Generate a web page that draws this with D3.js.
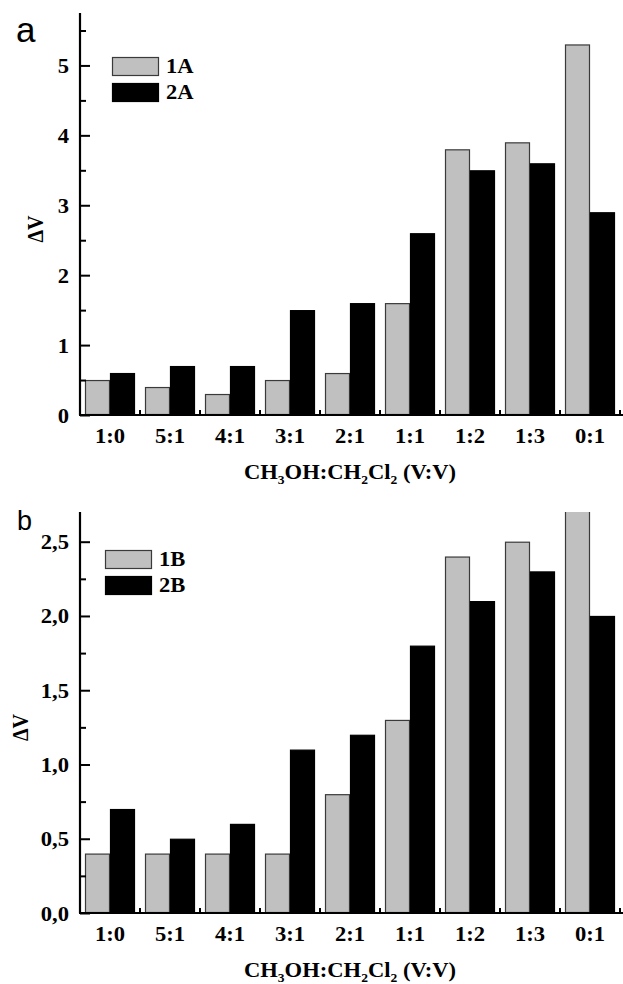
<!DOCTYPE html>
<html>
<head>
<meta charset="utf-8">
<script src="https://cdn.jsdelivr.net/npm/d3@7"></script>
<style>
  html, body { margin: 0; padding: 0; background: #fff; }
  svg { display: block; }
  .serif { font-family: "Liberation Serif", "Times New Roman", serif; font-weight: bold; }
</style>
</head>
<body>
<svg id="chart" width="623" height="984"></svg>
<script>
// Solvent ratio categories (CH3OH : CH2Cl2, v/v)
const categories = ["1:0", "5:1", "4:1", "3:1", "2:1", "1:1", "1:2", "1:3", "0:1"];

// Panel a: ΔV for compounds 1A and 2A
const seriesNamesA = ["1A", "2A"];
const values1A = [0.5, 0.4, 0.3, 0.5, 0.6, 1.6, 3.8, 3.9, 5.3];
const values2A = [0.6, 0.7, 0.7, 1.5, 1.6, 2.6, 3.5, 3.6, 2.9];
const majorTicksA = [0, 1, 2, 3, 4, 5];
const minorTicksA = [0.5, 1.5, 2.5, 3.5, 4.5, 5.5];

// Panel b: ΔV for compounds 1B and 2B
const seriesNamesB = ["1B", "2B"];
const values1B = [0.4, 0.4, 0.4, 0.4, 0.8, 1.3, 2.4, 2.5, 2.8];
const values2B = [0.7, 0.5, 0.6, 1.1, 1.2, 1.8, 2.1, 2.3, 2.0];
const majorTicksB = [0, 0.5, 1.0, 1.5, 2.0, 2.5];
const minorTicksB = [0.25, 0.75, 1.25, 1.75, 2.25];

const svg = d3.select("#chart");
const fills = ["#c0c0c0", "#000000"];
const strokes = ["#3a3a3a", "#000000"];
const SX = 1.13; // horizontal widening of the bold serif lettering

const commaFmt = d => d3.format(".1f")(d).replace(".", ",");

// widen text horizontally about its own anchor point
function widen(sel, sx) {
  sel.each(function() {
    const t = d3.select(this);
    const x = +t.attr("x") || 0, y = +t.attr("y") || 0;
    t.attr("x", 0).attr("y", 0)
      .attr("transform", `translate(${x},${y}) scale(${sx},1)`);
  });
}

const panels = [
  { id: "a", letter: "a", letterSize: 35, letterX: 16, letterY: 42,
    top: 13, bottom: 415, ymax: 5.75,
    names: seriesNamesA, series: [values1A, values2A],
    major: majorTicksA, minor: minorTicksA, fmt: d3.format("d"),
    legendX: 112, legendY: 57, ylabelX: 43 },
  { id: "b", letter: "b", letterSize: 27, letterX: 17, letterY: 530,
    top: 512, bottom: 913, ymax: 2.7,
    names: seriesNamesB, series: [values1B, values2B],
    major: majorTicksB, minor: minorTicksB, fmt: commaFmt,
    legendX: 105, legendY: 550, ylabelX: 28 }
];

const left = 80, right = 620;

const x0 = d3.scaleBand()
  .domain(categories)
  .range([left, right])
  .paddingInner(1 / 6)
  .paddingOuter(1 / 12);

panels.forEach(p => {
  const g = svg.append("g");
  const y = d3.scaleLinear().domain([0, p.ymax]).range([p.bottom, p.top]);
  const x1 = d3.scaleBand().domain(p.names).range([0, x0.bandwidth()]);

  // clip bars to the plotting area
  const clipId = "clip-" + p.id;
  svg.append("clipPath").attr("id", clipId)
    .append("rect")
    .attr("x", left).attr("y", p.top)
    .attr("width", right - left + 3).attr("height", p.bottom - p.top);

  const rows = categories.map((c, i) => ({
    cat: c,
    vals: p.names.map((n, k) => ({ name: n, k, v: p.series[k][i] }))
  }));

  const barsG = g.append("g").attr("clip-path", `url(#${clipId})`);
  barsG.selectAll("g.grp")
    .data(rows)
    .join("g")
    .attr("class", "grp")
    .attr("transform", d => `translate(${x0(d.cat)},0)`)
    .selectAll("rect")
    .data(d => d.vals)
    .join("rect")
    .attr("x", d => x1(d.name) + 0.5)
    .attr("y", d => y(d.v) + 0.5)
    .attr("width", x1.bandwidth() - 1)
    .attr("height", d => Math.max(0, y(0) - y(d.v) - 1))
    .attr("fill", d => fills[d.k])
    .attr("stroke", d => strokes[d.k])
    .attr("stroke-width", 1.2);

  // y axis: major ticks inward with labels on the left
  const yAxis = d3.axisLeft(y).tickValues(p.major).tickFormat(p.fmt)
    .tickSize(-10).tickPadding(11);
  const ya = g.append("g").attr("transform", `translate(${left},0)`).call(yAxis);
  ya.select(".domain").remove();
  ya.selectAll(".tick line").attr("stroke", "#000").attr("stroke-width", 2);
  ya.selectAll(".tick text")
    .attr("class", "serif")
    .attr("font-size", 20)
    .attr("fill", "#000")
    .attr("dy", null)
    .attr("y", 7)
    .call(widen, SX);

  const yMinor = d3.axisLeft(y).tickValues(p.minor).tickFormat("").tickSize(-6);
  const ym = g.append("g").attr("transform", `translate(${left},0)`).call(yMinor);
  ym.select(".domain").remove();
  ym.selectAll(".tick line").attr("stroke", "#000").attr("stroke-width", 2);

  // x axis labels at category centres
  const xAxis = d3.axisBottom(x0).tickSize(0).tickPadding(14);
  const xa = g.append("g").attr("transform", `translate(0,${p.bottom})`).call(xAxis);
  xa.select(".domain").remove();
  xa.selectAll(".tick text")
    .attr("class", "serif")
    .attr("font-size", 20)
    .attr("fill", "#000")
    .attr("dy", null)
    .attr("y", 28)
    .call(widen, SX);

  // small inward ticks at group boundaries
  const step = x0.step();
  const bounds = categories.map(c => x0(c) + x0.bandwidth() + (step - x0.bandwidth()) / 2);
  g.append("g").selectAll("line")
    .data(bounds)
    .join("line")
    .attr("x1", d => d).attr("x2", d => d)
    .attr("y1", p.bottom).attr("y2", p.bottom - 5)
    .attr("stroke", "#000").attr("stroke-width", 2);

  // axis lines
  g.append("line")
    .attr("x1", left).attr("x2", left)
    .attr("y1", y(p.ymax)).attr("y2", y(0))
    .attr("stroke", "#000").attr("stroke-width", 2.2);
  g.append("line")
    .attr("x1", left - 1).attr("x2", right + 3)
    .attr("y1", y(0)).attr("y2", y(0))
    .attr("stroke", "#000").attr("stroke-width", 2.2);

  // x axis title with subscripts
  const xt = g.append("text")
    .attr("class", "serif")
    .attr("x", (left + right) / 2)
    .attr("y", p.bottom + 64)
    .attr("text-anchor", "middle")
    .attr("font-size", 20)
    .attr("fill", "#000");
  const parts = [["CH", false], ["3", true], ["OH:CH", false], ["2", true],
                 ["Cl", false], ["2", true], [" (V:V)", false]];
  parts.forEach(([t, sub], i) => {
    const prev = i > 0 ? parts[i - 1][1] : false;
    let dy = 0;
    if (sub && !prev) dy = 5;
    if (!sub && prev) dy = -5;
    const ts = xt.append("tspan").attr("dy", dy).text(t);
    if (sub) ts.attr("font-size", 12);
  });
  widen(xt, SX);

  // y axis title
  g.append("text")
    .attr("class", "serif")
    .attr("transform", `translate(${p.ylabelX},${(p.top + p.bottom) / 2 + 15}) rotate(-90) scale(1,${SX})`)
    .attr("text-anchor", "middle")
    .attr("font-size", 20)
    .attr("fill", "#000")
    .text("ΔV");

  // legend
  const lg = g.append("g").attr("transform", `translate(${p.legendX},${p.legendY})`);
  p.names.forEach((n, k) => {
    lg.append("rect")
      .attr("x", 0.5).attr("y", k * 26 + 0.5)
      .attr("width", 46).attr("height", 18)
      .attr("fill", fills[k]).attr("stroke", strokes[k]).attr("stroke-width", 1.2);
    lg.append("text")
      .attr("class", "serif")
      .attr("x", 54).attr("y", k * 26 + 16)
      .attr("font-size", 20)
      .attr("fill", "#000")
      .text(n)
      .call(widen, SX);
  });

  // panel letter
  svg.append("text")
    .attr("x", p.letterX).attr("y", p.letterY)
    .attr("font-family", "Liberation Sans, Arial, sans-serif")
    .attr("font-size", p.letterSize)
    .attr("fill", "#000")
    .text(p.letter);
});
</script>
</body>
</html>
